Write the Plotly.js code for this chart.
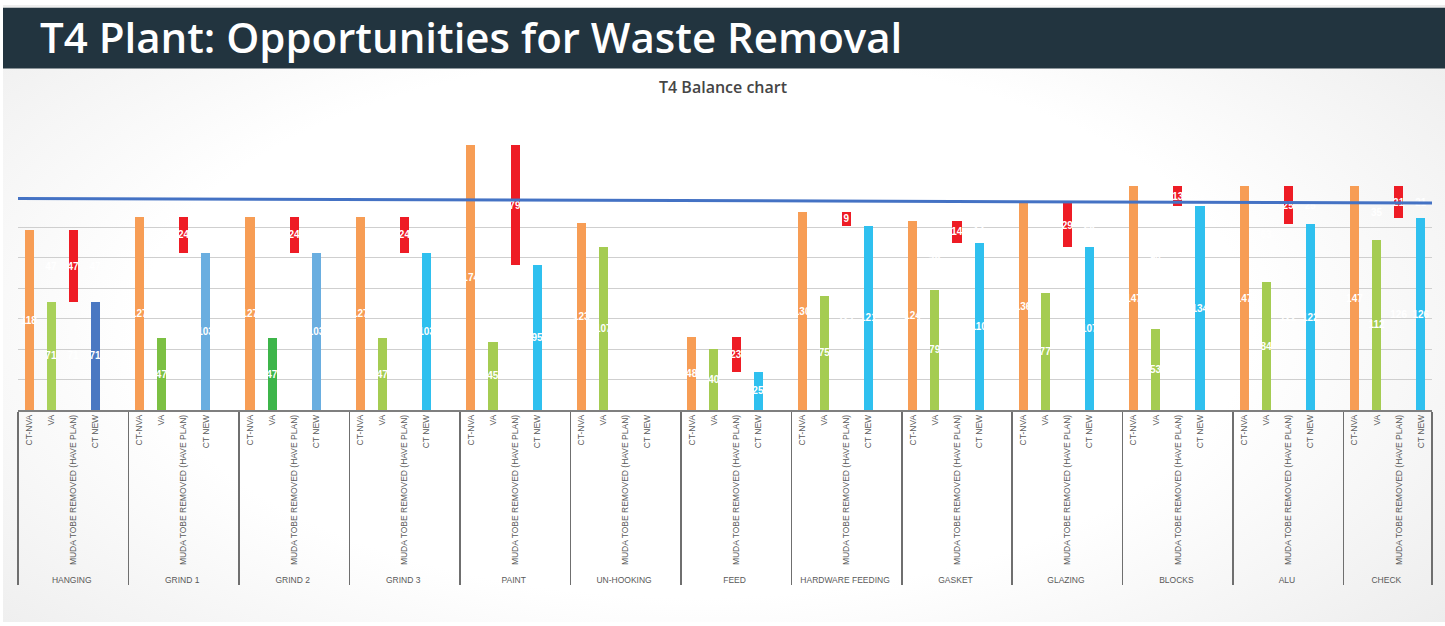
<!DOCTYPE html>
<html>
<head>
<meta charset="utf-8">
<script src="https://cdn.plot.ly/plotly-3.0.1.min.js"></script>
<style>
  html, body { margin:0; padding:0; background:#ffffff; }
  #frame { position:absolute; left:3px; top:5px; width:1442px; height:617px;
    background: radial-gradient(ellipse 70% 80% at 48% 52%, #ffffff 55%, #ebebeb 100%); }
  #chart { position:absolute; left:0; top:0; width:1445px; height:626px; }
</style>
</head>
<body>
<div id="frame"></div>
<div id="chart"></div>
<script>
// ---- data ----
const GROUPS = ["HANGING","GRIND 1","GRIND 2","GRIND 3","PAINT","UN-HOOKING","FEED",
                "HARDWARE FEEDING","GASKET","GLAZING","BLOCKS","ALU","CHECK"];
const STEPS  = ["CT-NVA","VA","MUDA TOBE REMOVED (HAVE PLAN)","CT NEW"];
const CT_NVA = [118,127,127,127,174,123, 48,130,124,136,147,147,147];
const VA     = [ 71, 47, 47, 47, 45,107, 40, 75, 79, 77, 53, 84,112];
const MUDA   = [ 47, 24, 24, 24, 79,null,23,  9, 14, 29, 13, 25, 21];
const CT_NEW = [ 71,103,103,103, 95,null,25,121,110,107,134,122,126];
const TAKT   = [139, 136];   // blue reference line, left end / right end

// ---- styles (per group) ----
const ORANGE = "#F79D55", RED = "#EE1C25";
const GREEN  = ["#A9D15A","#7CC043","#3DB54A","#A5CC52","#A5CC52","#A5CC52","#A5CC52",
                "#A5CC52","#A5CC52","#A5CC52","#A5CC52","#A5CC52","#A5CC52"];
const BLUE   = ["#4A78C2","#6AAEE0","#6AAEE0","#2FC0EF","#2FC0EF","#2FC0EF","#2FC0EF",
                "#2FC0EF","#2FC0EF","#2FC0EF","#2FC0EF","#2FC0EF","#2FC0EF"];
const CLEAR  = "rgba(0,0,0,0)";

// build the multicategory axis (each group except the last has one blank slot)
const xg = [], xc = [], lowY = [], lowC = [], lowT = [], upY = [], upC = [], upT = [];
GROUPS.forEach((g, i) => {
  const nva = CT_NVA[i], va = VA[i], mu = MUDA[i], nw = CT_NEW[i];
  // CT-NVA: zero base + full orange bar
  xg.push(g); xc.push(STEPS[0]);
  lowY.push(0); lowC.push(CLEAR); lowT.push("0");
  upY.push(nva); upC.push(ORANGE); upT.push(String(nva));
  // VA: green bar + clear remainder
  xg.push(g); xc.push(STEPS[1]);
  lowY.push(va); lowC.push(GREEN[i]); lowT.push(String(va));
  upY.push(nva - va); upC.push(CLEAR); upT.push(String(nva - va));
  // MUDA: clear base (CT NEW) + red floating
  xg.push(g); xc.push(STEPS[2]);
  lowY.push(mu == null ? null : nw); lowC.push(CLEAR); lowT.push(mu == null ? "" : String(nw));
  upY.push(mu); upC.push(RED); upT.push(mu == null ? "" : String(mu));
  // CT NEW: blue bar + clear remainder
  xg.push(g); xc.push(STEPS[3]);
  lowY.push(nw); lowC.push(BLUE[i]); lowT.push(nw == null ? "" : String(nw));
  upY.push(nw == null ? null : nva - nw); upC.push(CLEAR); upT.push(nw == null ? "" : String(nva - nw));
  if (i < GROUPS.length - 1) {
    xg.push(g); xc.push(" ");
    lowY.push(null); lowC.push(CLEAR); lowT.push("");
    upY.push(null); upC.push(CLEAR); upT.push("");
  }
});

const txtFont = {family:"Liberation Sans, Arial, sans-serif", size:10, color:"#ffffff", weight:"bold"};
const common = {
  type:"bar", x:[xg, xc], textposition:"inside", insidetextanchor:"middle",
  textangle:0, constraintext:"none", textfont:txtFont, hoverinfo:"x+y", showlegend:false,
  cliponaxis:false
};
const traces = [
  Object.assign({}, common, {name:"Base", y:lowY, text:lowT, marker:{color:lowC, line:{width:0}}}),
  Object.assign({}, common, {name:"Top",  y:upY,  text:upT,  marker:{color:upC,  line:{width:0}}})
];

const layout = {
  width:1445, height:626,
  margin:{l:18, r:13, t:135.5, b:216},
  paper_bgcolor:"rgba(0,0,0,0)", plot_bgcolor:"rgba(0,0,0,0)",
  barmode:"stack", bargap:0.59,
  font:{family:"Liberation Sans, Arial, sans-serif"},
  title:{
    text:"T4 Plant: Opportunities for Waste Removal",
    x:40/1445, xanchor:"left", xref:"container",
    y:1-38/626, yanchor:"middle", yref:"container",
    font:{family:"Open Sans, sans-serif", size:42, color:"#ffffff", weight:600}
  },
  xaxis:{
    type:"multicategory", tickangle:-90, showline:true, linecolor:"#7f7f7f", linewidth:1.5,
    ticks:"", showgrid:false, showdividers:true, dividercolor:"#6f6f6f", dividerwidth:1.5,
    tickfont:{family:"Liberation Sans, Arial, sans-serif", size:8.5, color:"#595959"},
    fixedrange:true
  },
  yaxis:{
    range:[0,180], showticklabels:false, tickvals:[20,40,60,80,100,120],
    showgrid:true, gridcolor:"#cfcfcf", gridwidth:1, zeroline:false, showline:false,
    ticks:"", fixedrange:true
  },
  shapes:[
    {type:"rect", xref:"paper", yref:"paper",
     x0:(3-18)/1414, x1:(1445-18)/1414, y0:(410-68)/274.5, y1:(410-7)/274.5,
     fillcolor:"#22343F", line:{width:0}, layer:"below"},
    {type:"line", xref:"paper", yref:"y", x0:0, x1:1, y0:TAKT[0], y1:TAKT[1],
     line:{color:"#4472C4", width:3}}
  ],
  annotations:[
    {text:"T4 Balance chart", xref:"paper", yref:"paper", x:(723-18)/1414, y:(410-86)/274.5,
     xanchor:"center", yanchor:"middle", showarrow:false,
     font:{family:"Open Sans, sans-serif", size:16, color:"#454545", weight:600}}
  ]
};

Plotly.newPlot("chart", traces, layout, {displayModeBar:false, staticPlot:true});
</script>
</body>
</html>
